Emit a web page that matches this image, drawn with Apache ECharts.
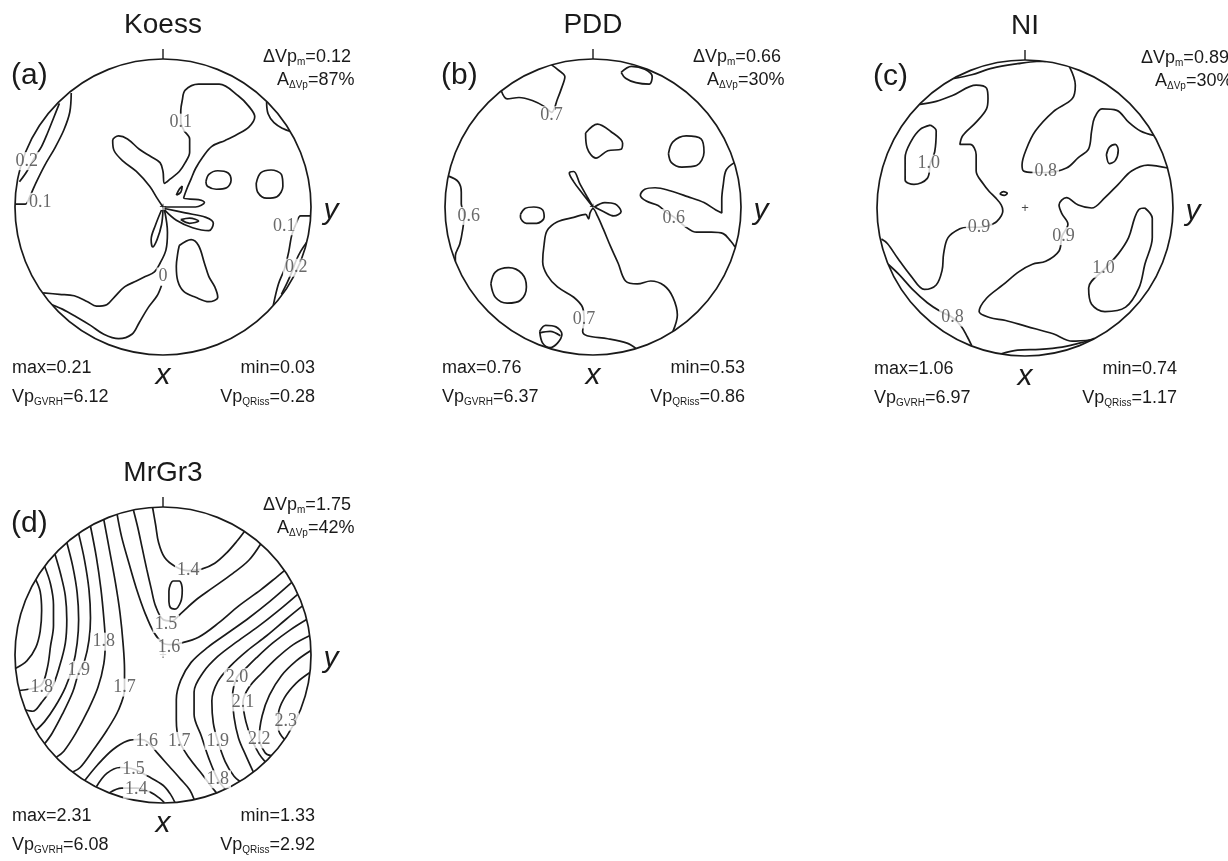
<!DOCTYPE html>
<html><head><meta charset="utf-8">
<script src="https://cdn.jsdelivr.net/npm/echarts@6/dist/echarts.min.js"></script>
<style>html,body{margin:0;padding:0;background:#fff}#c{width:1228px;height:861px}</style>
</head><body><div id="c"></div>
<script>
// ---------------- data ----------------
const panelNames = ['Koess', 'PDD', 'NI', 'MrGr3'];
const panelTags = ['(a)', '(b)', '(c)', '(d)'];
const dVpmValues = ['0.12', '0.66', '0.89', '1.75'];
const aDVpValues = ['87%', '30%', '30%', '42%'];
const maxValues = ['0.21', '0.76', '1.06', '2.31'];
const minValues = ['0.03', '0.53', '0.74', '1.33'];
const vpGVRHValues = ['6.12', '6.37', '6.97', '6.08'];
const vpQRissValues = ['0.28', '0.86', '1.17', '2.92'];

// contour polylines, normalised stereonet coords [x(right), y(up)], radius 1
const contoursA = [
  [[-0.70,0.70],[-0.74,0.60],[-0.78,0.50],[-0.82,0.41],[-0.87,0.33],[-0.92,0.24],[-0.97,0.17]],
  [[-0.62,0.77],[-0.63,0.64],[-0.67,0.52],[-0.73,0.40],[-0.80,0.28],[-0.86,0.16],[-0.90,0.07],[-0.93,0.02],[-1.0,0.02]],
  [[0,0],[-0.04,0.06],[-0.09,0.14],[-0.18,0.24],[-0.27,0.31],[-0.33,0.38],[-0.34,0.45],[-0.30,0.48],[-0.24,0.46],[-0.16,0.39],[-0.08,0.34],[-0.02,0.30],[0,0.24],[0.01,0.16],[0.05,0.19],[0.11,0.24],[0.15,0.30],[0.18,0.37],[0.18,0.46],[0.14,0.52],[0.12,0.58],[0.12,0.65],[0.13,0.72],[0.15,0.79],[0.24,0.83],[0.38,0.83],[0.51,0.75],[0.58,0.68],[0.62,0.61],[0.58,0.54],[0.50,0.49],[0.42,0.45],[0.33,0.41],[0.27,0.34],[0.22,0.26],[0.19,0.19],[0.16,0.12],[0.14,0.06],[0.24,0.05],[0.28,0.03],[0.22,0.0],[0.01,0]],
  [[0.70,0.71],[0.71,0.63],[0.75,0.57],[0.81,0.53],[0.86,0.51]],
  [[0.01,-0.01],[0.15,-0.04],[0.29,-0.07],[0.34,-0.11],[0.31,-0.16],[0.20,-0.14],[0.09,-0.09],[0.01,-0.02]],
  [[0.12,-0.085],[0.18,-0.075],[0.24,-0.095],[0.18,-0.11],[0.12,-0.085]],
  [[0.09,0.08],[0.11,0.12],[0.13,0.14],[0.12,0.10],[0.09,0.08]],
  [[-0.01,-0.02],[-0.05,-0.12],[-0.08,-0.22],[-0.07,-0.27],[-0.04,-0.22],[-0.01,-0.12],[0.0,-0.02]],
  [[0.01,-0.02],[0.03,-0.17],[0.02,-0.29],[-0.02,-0.38],[-0.06,-0.44],[-0.12,-0.47],[-0.18,-0.50],[-0.26,-0.54],[-0.33,-0.61],[-0.38,-0.66],[-0.45,-0.67],[-0.51,-0.64],[-0.60,-0.60],[-0.70,-0.59],[-0.81,-0.58]],
  [[-0.01,-0.53],[-0.04,-0.60],[-0.10,-0.68],[-0.16,-0.78],[-0.21,-0.86],[-0.30,-0.89],[-0.40,-0.86],[-0.49,-0.80],[-0.59,-0.74],[-0.68,-0.69],[-0.75,-0.66]],
  [[0.11,-0.26],[0.19,-0.22],[0.24,-0.26],[0.28,-0.38],[0.31,-0.47],[0.35,-0.54],[0.37,-0.61],[0.31,-0.64],[0.22,-0.61],[0.14,-0.57],[0.10,-0.50],[0.09,-0.40],[0.10,-0.31],[0.11,-0.26]],
  [[0.29,0.17],[0.31,0.22],[0.37,0.245],[0.44,0.23],[0.46,0.18],[0.43,0.13],[0.36,0.12],[0.30,0.14],[0.29,0.17]],
  [[0.63,0.16],[0.66,0.23],[0.73,0.25],[0.80,0.22],[0.81,0.14],[0.77,0.07],[0.70,0.06],[0.64,0.10],[0.63,0.16]],
  [[0.995,-0.06],[0.93,-0.06],[0.90,-0.11],[0.87,-0.19],[0.85,-0.30],[0.82,-0.42],[0.78,-0.52],[0.745,-0.665]],
  [[0.97,-0.24],[0.93,-0.30],[0.90,-0.36],[0.87,-0.44],[0.84,-0.51],[0.80,-0.59]]
];
const labelsA = [[0.12,0.57,'0.1'],[-0.92,0.31,'0.2'],[-0.83,0.035,'0.1'],[0.82,-0.13,'0.1'],[0.90,-0.41,'0.2'],[0.0,-0.47,'0']];

const contoursB = [
  [[-0.28,0.96],[-0.24,0.93],[-0.19,0.88],[-0.21,0.81],[-0.24,0.73],[-0.28,0.64],[-0.33,0.68],[-0.41,0.72],[-0.50,0.74],[-0.58,0.73],[-0.62,0.785]],
  [[0.19,0.91],[0.26,0.95],[0.35,0.93],[0.40,0.88],[0.38,0.83],[0.29,0.84],[0.22,0.87],[0.19,0.91]],
  [[-0.05,0.50],[0.03,0.56],[0.12,0.51],[0.20,0.43],[0.19,0.39],[0.10,0.38],[0.02,0.33],[-0.04,0.40],[-0.05,0.50]],
  [[0.51,0.36],[0.54,0.44],[0.63,0.48],[0.73,0.46],[0.75,0.37],[0.70,0.28],[0.60,0.27],[0.53,0.30],[0.51,0.36]],
  [[-0.98,0.21],[-0.91,0.17],[-0.89,0.10],[-0.89,0.02],[-0.87,-0.05],[-0.88,-0.15],[-0.90,-0.25],[-0.93,-0.33],[-0.93,-0.37]],
  [[-0.49,-0.05],[-0.46,-0.01],[-0.40,0.0],[-0.34,-0.02],[-0.33,-0.07],[-0.38,-0.11],[-0.45,-0.11],[-0.49,-0.07],[-0.49,-0.05]],
  [[0,0],[-0.07,0.09],[-0.13,0.17],[-0.16,0.23],[-0.13,0.24],[-0.09,0.16],[-0.04,0.07],[0,0]],
  [[0.01,0],[0.08,0.03],[0.15,0.02],[0.19,-0.03],[0.14,-0.06],[0.07,-0.03],[0.01,0]],
  [[0.29,-0.955],[0.23,-0.92],[0.10,-0.89],[-0.04,-0.87],[-0.07,-0.84],[-0.06,-0.77],[-0.07,-0.68],[-0.13,-0.61],[-0.24,-0.54],[-0.31,-0.46],[-0.34,-0.37],[-0.33,-0.25],[-0.31,-0.16],[-0.24,-0.10],[-0.13,-0.07],[-0.05,-0.05],[-0.03,-0.08],[-0.02,-0.04],[0,-0.01],[0.03,-0.06],[0.07,-0.15],[0.12,-0.27],[0.17,-0.38],[0.22,-0.50],[0.30,-0.52],[0.39,-0.50],[0.48,-0.53],[0.54,-0.61],[0.57,-0.73],[0.54,-0.84]],
  [[-0.69,-0.52],[-0.66,-0.44],[-0.57,-0.41],[-0.48,-0.45],[-0.45,-0.54],[-0.49,-0.63],[-0.58,-0.65],[-0.66,-0.61],[-0.69,-0.52]],
  [[-0.36,-0.84],[-0.32,-0.80],[-0.25,-0.81],[-0.21,-0.86],[-0.24,-0.92],[-0.29,-0.95],[-0.34,-0.92],[-0.36,-0.84]],
  [[-0.36,-0.85],[-0.29,-0.84],[-0.22,-0.87]],
  [[0.955,0.30],[0.90,0.25],[0.88,0.15],[0.87,0.05],[0.87,-0.04],[0.83,-0.02],[0.75,0.03],[0.64,0.07],[0.52,0.11],[0.42,0.13],[0.35,0.12],[0.32,0.08],[0.36,0.04],[0.44,0.01],[0.50,-0.04],[0.55,-0.07],[0.62,-0.13],[0.70,-0.17],[0.80,-0.17],[0.88,-0.18],[0.93,-0.23],[0.96,-0.27]]
];
const labelsB = [[-0.28,0.62,'0.7'],[-0.84,-0.06,'0.6'],[0.545,-0.075,'0.6'],[-0.06,-0.76,'0.7']];

const contoursC = [
  [[-0.48,0.875],[-0.36,0.90],[-0.22,0.945],[-0.05,0.975],[0.08,0.99],[0.14,0.99]],
  [[-0.71,0.70],[-0.60,0.72],[-0.49,0.76],[-0.33,0.83],[-0.26,0.81],[-0.25,0.74],[-0.26,0.67],[-0.33,0.58],[-0.42,0.49],[-0.44,0.43],[-0.37,0.43],[-0.33,0.36],[-0.33,0.25],[-0.28,0.16],[-0.24,0.11],[-0.20,0.07],[-0.16,0.02],[-0.15,-0.02],[-0.19,-0.09],[-0.25,-0.12],[-0.31,-0.13],[-0.38,-0.13],[-0.44,-0.14],[-0.52,-0.20],[-0.55,-0.31],[-0.56,-0.42],[-0.60,-0.52],[-0.68,-0.55],[-0.77,-0.46],[-0.86,-0.34],[-0.93,-0.24],[-0.97,-0.21]],
  [[-0.64,0.56],[-0.60,0.52],[-0.61,0.38],[-0.64,0.30],[-0.66,0.20],[-0.75,0.16],[-0.81,0.19],[-0.81,0.34],[-0.77,0.45],[-0.71,0.53],[-0.64,0.56]],
  [[0.30,0.955],[0.34,0.83],[0.32,0.74],[0.19,0.65],[0.07,0.52],[0.01,0.40],[-0.02,0.29],[-0.01,0.25],[0.06,0.24],[0.14,0.24],[0.28,0.27],[0.36,0.34],[0.43,0.40],[0.45,0.52],[0.47,0.61],[0.52,0.67],[0.62,0.66],[0.70,0.58],[0.78,0.52],[0.87,0.49]],
  [[0.55,0.36],[0.57,0.41],[0.61,0.43],[0.63,0.39],[0.61,0.32],[0.57,0.30],[0.55,0.36]],
  [[0.965,0.27],[0.83,0.29],[0.72,0.25],[0.63,0.16],[0.54,0.07],[0.45,0.0],[0.36,0.02],[0.28,0.07],[0.23,0.02],[0.25,-0.04],[0.29,-0.11],[0.25,-0.19],[0.23,-0.29],[0.14,-0.36],[0.05,-0.38],[-0.04,-0.43],[-0.15,-0.52],[-0.26,-0.61],[-0.31,-0.70],[-0.24,-0.74],[-0.13,-0.76],[0.01,-0.80],[0.19,-0.85],[0.32,-0.90],[0.45,-0.89]],
  [[0.81,0.0],[0.86,-0.07],[0.86,-0.20],[0.81,-0.38],[0.77,-0.54],[0.68,-0.67],[0.54,-0.70],[0.45,-0.65],[0.43,-0.54],[0.54,-0.41],[0.63,-0.31],[0.70,-0.20],[0.74,-0.07],[0.77,-0.01],[0.81,0.0]],
  [[-0.17,0.095],[-0.145,0.11],[-0.12,0.10],[-0.14,0.085],[-0.17,0.095]],
  [[-0.925,-0.38],[-0.85,-0.45],[-0.76,-0.55],[-0.66,-0.64],[-0.57,-0.70],[-0.49,-0.74],[-0.43,-0.80],[-0.39,-0.87],[-0.36,-0.93]],
  [[-0.16,-0.985],[-0.05,-0.96],[0.10,-0.955],[0.25,-0.94],[0.38,-0.91],[0.47,-0.88]]
];
const labelsC = [[-0.65,0.30,'1.0'],[0.14,0.245,'0.8'],[-0.31,-0.13,'0.9'],[0.26,-0.19,'0.9'],[0.53,-0.41,'1.0'],[-0.49,-0.74,'0.8']];

const contoursD = [
  [[-0.07,0.995],[-0.05,0.88],[-0.03,0.76],[0.01,0.66],[0.08,0.60],[0.17,0.57],[0.26,0.58],[0.35,0.62],[0.43,0.69],[0.50,0.77],[0.55,0.835]],
  [[0.04,0.36],[0.04,0.43],[0.07,0.50],[0.11,0.50],[0.13,0.44],[0.12,0.36],[0.08,0.31],[0.05,0.32],[0.04,0.36]],
  [[-0.20,0.98],[-0.17,0.86],[-0.14,0.72],[-0.11,0.58],[-0.08,0.45],[-0.05,0.33],[0.0,0.24],[0.06,0.23],[0.12,0.28],[0.22,0.37],[0.33,0.45],[0.47,0.55],[0.58,0.64],[0.66,0.75]],
  [[-0.31,0.95],[-0.28,0.80],[-0.23,0.62],[-0.18,0.45],[-0.12,0.28],[-0.06,0.15],[0.0,0.08],[0.05,0.07],[0.12,0.08],[0.24,0.12],[0.38,0.22],[0.51,0.33],[0.66,0.44],[0.76,0.52],[0.82,0.57]],
  [[-0.86,0.51],[-0.83,0.43],[-0.82,0.30],[-0.83,0.16],[-0.86,0.05],[-0.92,-0.04],[-0.995,-0.09]],
  [[-0.80,0.60],[-0.76,0.48],[-0.74,0.34],[-0.74,0.20],[-0.76,0.06],[-0.78,-0.08],[-0.82,-0.20],[-0.90,-0.23],[-0.97,-0.24]],
  [[-0.73,0.68],[-0.69,0.54],[-0.66,0.40],[-0.65,0.24],[-0.66,0.08],[-0.70,-0.08],[-0.75,-0.22],[-0.82,-0.32],[-0.88,-0.38],[-0.93,-0.37]],
  [[-0.65,0.76],[-0.61,0.60],[-0.58,0.42],[-0.57,0.24],[-0.58,0.08],[-0.61,-0.08],[-0.66,-0.22],[-0.73,-0.35],[-0.80,-0.45],[-0.86,-0.51]],
  [[-0.57,0.82],[-0.53,0.64],[-0.50,0.44],[-0.49,0.25],[-0.50,0.10],[-0.53,-0.04],[-0.57,-0.12],[-0.61,-0.25],[-0.68,-0.40],[-0.75,-0.53],[-0.80,-0.60]],
  [[-0.49,0.87],[-0.45,0.66],[-0.42,0.45],[-0.40,0.25],[-0.39,0.09],[-0.40,-0.06],[-0.44,-0.22],[-0.51,-0.38],[-0.59,-0.53],[-0.67,-0.65],[-0.72,-0.69]],
  [[-0.40,0.915],[-0.36,0.70],[-0.32,0.48],[-0.29,0.28],[-0.27,0.08],[-0.26,-0.10],[-0.26,-0.23],[-0.30,-0.37],[-0.38,-0.51],[-0.47,-0.64],[-0.56,-0.76],[-0.61,-0.79]],
  [[-0.53,-0.85],[-0.44,-0.74],[-0.34,-0.64],[-0.24,-0.58],[-0.15,-0.57],[-0.10,-0.59],[-0.04,-0.66],[0.04,-0.75],[0.12,-0.84],[0.18,-0.91],[0.21,-0.975]],
  [[-0.45,-0.89],[-0.38,-0.80],[-0.29,-0.76],[-0.20,-0.77],[-0.10,-0.82],[0.0,-0.88],[0.05,-0.94],[0.08,-0.995]],
  [[-0.36,-0.93],[-0.28,-0.90],[-0.18,-0.90],[-0.08,-0.93],[-0.02,-0.97],[0.01,-0.999]],
  [[0.87,0.49],[0.72,0.36],[0.58,0.25],[0.44,0.15],[0.30,0.05],[0.19,-0.05],[0.12,-0.17],[0.09,-0.30],[0.09,-0.44],[0.11,-0.58],[0.18,-0.70],[0.26,-0.80],[0.32,-0.88],[0.36,-0.93]],
  [[0.91,0.41],[0.78,0.30],[0.64,0.19],[0.50,0.09],[0.37,-0.01],[0.27,-0.12],[0.21,-0.25],[0.21,-0.40],[0.26,-0.55],[0.31,-0.70],[0.37,-0.84],[0.42,-0.905]],
  [[0.94,0.33],[0.83,0.24],[0.70,0.13],[0.57,0.03],[0.46,-0.07],[0.37,-0.18],[0.33,-0.31],[0.34,-0.46],[0.37,-0.58],[0.42,-0.72],[0.48,-0.82],[0.52,-0.855]],
  [[0.97,0.24],[0.86,0.17],[0.74,0.08],[0.63,-0.02],[0.55,-0.10],[0.50,-0.15],[0.47,-0.28],[0.48,-0.42],[0.51,-0.56],[0.56,-0.68],[0.61,-0.79]],
  [[0.99,0.13],[0.88,0.07],[0.77,-0.02],[0.67,-0.12],[0.58,-0.22],[0.54,-0.32],[0.56,-0.45],[0.60,-0.57],[0.65,-0.67],[0.69,-0.72]],
  [[0.999,0.03],[0.90,-0.04],[0.80,-0.14],[0.72,-0.27],[0.67,-0.41],[0.65,-0.56],[0.69,-0.66],[0.73,-0.68]],
  [[0.99,-0.12],[0.90,-0.19],[0.82,-0.29],[0.78,-0.40],[0.78,-0.50],[0.82,-0.57]]
];
const labelsD = [[0.17,0.57,'1.4'],[0.02,0.21,'1.5'],[0.04,0.05,'1.6'],[-0.40,0.09,'1.8'],[-0.57,-0.10,'1.9'],[-0.82,-0.22,'1.8'],[-0.26,-0.22,'1.7'],
  [-0.11,-0.58,'1.6'],[0.11,-0.58,'1.7'],[0.37,-0.58,'1.9'],[0.37,-0.84,'1.8'],[-0.20,-0.77,'1.5'],[-0.18,-0.91,'1.4'],
  [0.50,-0.15,'2.0'],[0.54,-0.32,'2.1'],[0.65,-0.57,'2.2'],[0.83,-0.45,'2.3']];

const contourSets = [contoursA, contoursB, contoursC, contoursD];
const labelSets = [labelsA, labelsB, labelsC, labelsD];

// ---------------- layout (positions / styles) ----------------
const CENTERS = [[163, 207], [593, 207], [1025, 208], [163, 655]];
const RADIUS = 148;
const INK = '#1a1a1a';
const SANS = '"Liberation Sans", Arial, sans-serif';
const SERIF = '"Liberation Serif", "Times New Roman", serif';

function toPolar(p) {
  const r = Math.hypot(p[0], p[1]);
  let a = Math.atan2(p[0], p[1]) * 180 / Math.PI;
  if (a < 0) a += 360;
  return [r, a];
}

const polar = [], angleAxis = [], radiusAxis = [], series = [];
CENTERS.forEach((c, i) => {
  polar.push({ center: [c[0], c[1]], radius: RADIUS });
  angleAxis.push({
    polarIndex: i, type: 'value', min: 0, max: 360, interval: 360, startAngle: 90, clockwise: true,
    axisLine: { show: true, lineStyle: { color: INK, width: 1.7 } },
    axisTick: { show: true, inside: false, length: 10, lineStyle: { color: INK, width: 1.4 } },
    axisLabel: { show: false }, splitLine: { show: false }, splitArea: { show: false }
  });
  radiusAxis.push({
    polarIndex: i, type: 'value', min: 0, max: 1, show: false,
    axisLine: { show: false }, axisTick: { show: false }, axisLabel: { show: false }, splitLine: { show: false }
  });
  contourSets[i].forEach(line => {
    series.push({
      type: 'line', coordinateSystem: 'polar', polarIndex: i,
      data: line.map(toPolar), smooth: 0.35, symbol: 'none', silent: true,
      lineStyle: { color: INK, width: 1.7 }, z: 2
    });
  });
  series.push({
    type: 'scatter', coordinateSystem: 'polar', polarIndex: i, silent: true,
    symbol: 'circle', symbolSize: 1, itemStyle: { color: 'rgba(0,0,0,0)' }, z: 5,
    data: labelSets[i].map(l => ({ value: toPolar(l), name: l[2] })),
    label: { show: true, position: 'inside', formatter: '{b}', fontFamily: SERIF, fontSize: 18,
      color: '#444444', backgroundColor: '#ffffff', padding: [0, 2] }
  });
  series.push({
    type: 'scatter', coordinateSystem: 'polar', polarIndex: i, silent: true,
    symbol: 'circle', symbolSize: 1, itemStyle: { color: 'rgba(0,0,0,0)' }, z: 4,
    data: [{ value: [0, 0], name: '+' }],
    label: { show: true, position: 'inside', formatter: '{b}', fontFamily: SANS, fontSize: 13, color: INK }
  });
});

const subStyle = { s: { fontSize: 10, fontFamily: SANS, fill: INK, verticalAlign: 'bottom', lineHeight: 11 } };
function txt(x, y, text, o) {
  o = o || {};
  return {
    type: 'text', x: x, y: y, silent: true,
    style: {
      text: text, fill: INK, fontFamily: SANS, fontSize: o.size || 18, fontStyle: o.italic ? 'italic' : 'normal',
      align: o.align || 'left', verticalAlign: 'middle', lineHeight: (o.size || 18) + 2, rich: subStyle
    }
  };
}
const graphics = [];
CENTERS.forEach((c, i) => {
  const cx = c[0], cy = c[1];
  const rShift = i === 2 ? 16 : 0;
  graphics.push(txt(cx, cy - 182, panelNames[i], { size: 28, align: 'center' }));
  graphics.push(txt(cx - 152, cy - 131, panelTags[i], { size: 30 }));
  graphics.push(txt(cx + 100 + rShift, cy - 150, 'ΔVp{s|m}=' + dVpmValues[i]));
  graphics.push(txt(cx + 114 + rShift, cy - 127, 'A{s|ΔVp}=' + aDVpValues[i]));
  graphics.push(txt(cx - 151, cy + 161, 'max=' + maxValues[i]));
  graphics.push(txt(cx - 151, cy + 190, 'Vp{s|GVRH}=' + vpGVRHValues[i]));
  graphics.push(txt(cx + 152, cy + 161, 'min=' + minValues[i], { align: 'right' }));
  graphics.push(txt(cx + 152, cy + 190, 'Vp{s|QRiss}=' + vpQRissValues[i], { align: 'right' }));
  graphics.push(txt(cx, cy + 169, 'x', { size: 30, italic: true, align: 'center' }));
  graphics.push(txt(cx + 168, cy + 4, 'y', { size: 30, italic: true, align: 'center' }));
});

const chart = echarts.init(document.getElementById('c'), null, { renderer: 'canvas' });
chart.setOption({
  backgroundColor: '#ffffff',
  animation: false,
  polar: polar,
  angleAxis: angleAxis,
  radiusAxis: radiusAxis,
  series: series,
  graphic: graphics
});
</script></body></html>
